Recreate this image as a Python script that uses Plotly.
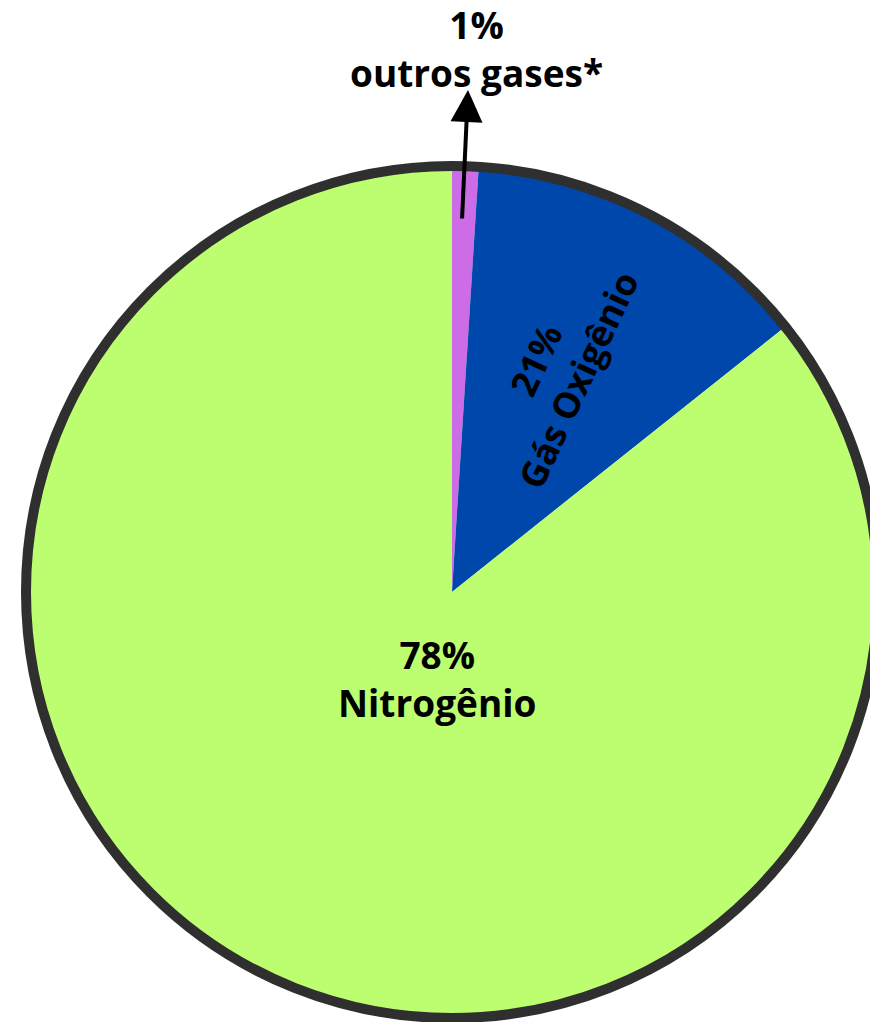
import plotly.graph_objects as go

# Data
categories = ["outros gases*", "Gás Oxigênio", "Nitrogênio"]
label_pct = ["1%", "21%", "78%"]
# slice sizes as drawn in the picture (%)
drawn_share = [1.0, 13.3, 85.7]
colors = ["#cc6ce6", "#0047ab", "#bdfd70"]

W, H = 890, 1022
cx, cy, r = 452, 592, 426  # pixels


def px(x):
    return x / W


def py(y):
    return 1 - y / H


dom = dict(x=[px(cx - r), px(cx + r)], y=[py(cy + r), py(cy - r)])

fig = go.Figure()
fig.add_trace(go.Pie(
    labels=categories, values=drawn_share, sort=False, direction="clockwise",
    rotation=0, marker=dict(colors=colors, line=dict(width=0)),
    textinfo="none", hoverinfo="skip", showlegend=False, domain=dom,
))
# outline ring
fig.add_trace(go.Pie(
    labels=["borda"], values=[1], sort=False,
    marker=dict(colors=["rgba(0,0,0,0)"], line=dict(color="#2f2f2f", width=10)),
    textinfo="none", hoverinfo="skip", showlegend=False, domain=dom,
))

font_b = dict(family="Open Sans", size=37, color="#000000", weight=700)
font_s = dict(family="Open Sans", size=36, color="#000000", weight=700)


def label(text, x, y, font, angle=0):
    fig.add_annotation(
        x=px(x), y=py(y), xref="paper", yref="paper", text=text,
        showarrow=False, font=font, textangle=angle,
        xanchor="center", yanchor="middle",
    )


# Nitrogênio
label(f"{label_pct[2]}<br>{categories[2]}", 437, 678, font_b)
# Gás Oxigênio (rotated)
label(f"{label_pct[1]}<br>{categories[1]}", 557, 370, font_s, -65)
# outros gases
label(f"{label_pct[0]}<br>{categories[0]}", 476, 48, font_b)

# arrow from purple slice to label
fig.add_annotation(
    x=px(468), y=py(90), xref="paper", yref="paper",
    ax=462 - 468, ay=220 - 90,
    text="", showarrow=True, arrowhead=2, arrowsize=1.6, arrowwidth=4,
    arrowcolor="#000000", standoff=0, startstandoff=0,
)

fig.update_layout(
    width=W, height=H, margin=dict(l=0, r=0, t=0, b=0),
    paper_bgcolor="white", plot_bgcolor="white", showlegend=False,
)

fig.write_html(
    "out.html",
    config={"displayModeBar": False},
    post_script="document.body.style.margin='0';document.body.style.overflow='hidden';",
)
